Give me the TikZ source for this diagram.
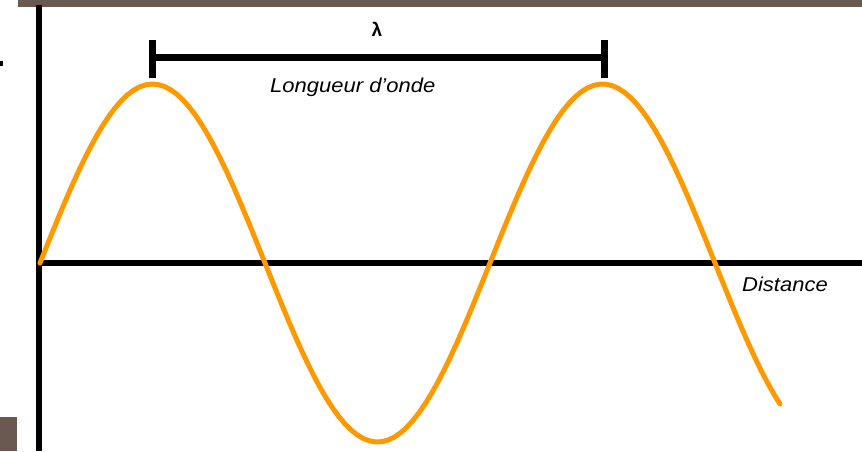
\documentclass[tikz,border=0pt]{standalone}
\usepackage{fontspec}
\setmainfont{Liberation Sans}
\usepackage{xcolor}
\usetikzlibrary{positioning, calc}
\definecolor{cWave}{RGB}{255,153,0}
\definecolor{cFrame}{RGB}{106,89,81}
\tikzset{
	axis/.style     ={line width=6pt, black},
	wave/.style     ={line width=5pt, cWave, line cap=round, line join=round},
	brace/.style    ={line width=7pt, black},
	lbl/.style      ={font=\fontsize{20}{24}\selectfont\itshape, inner sep=0pt, xscale=1.1, transform shape},
}

\begin{document}
\begin{tikzpicture}[x=1pt, y=-1pt]
	\useasboundingbox (0,0) rectangle (862,451);
	% frame pieces
	\fill[cFrame] (18,0) rectangle (862,7);
	\fill[cFrame] (0,417) rectangle (17,451);
	\fill[black] (0,61) rectangle (3,66);
	% axes
	\coordinate (yTop) at (39,5);
	\coordinate (yBot) at (39,451);
	\coordinate (xLeft) at (39,263);
	\coordinate (xRight) at (862,263);
	\draw[axis] (yTop) -- (yBot);
	\draw[axis] (xLeft) -- (xRight);
	% wave
	\draw[wave] plot[domain=40:780, samples=120] (\x, {263 - 179*sin((\x-40)/450*360)});
	% wavelength bracket
	\coordinate (tickLtop) at (152,40);
	\coordinate (tickLbot) at (152,78);
	\coordinate (tickRtop) at (604,40);
	\coordinate (tickRbot) at (604,78);
	\draw[brace] (tickLtop) -- (tickLbot);
	\draw[brace] (tickRtop) -- (tickRbot);
	\draw[brace] (tickLtop |- 0,57) -- (tickRtop |- 0,57);
	% labels
	\node[font=\fontsize{19}{22}\selectfont\bfseries, inner sep=0pt] (lam) at (377,29) {λ};
	\node[lbl, anchor=west] (wl) at (270,87) {Longueur d’onde};
	\node[lbl, anchor=west] (dist) at (742,284) {Distance};
\end{tikzpicture}
\end{document}
